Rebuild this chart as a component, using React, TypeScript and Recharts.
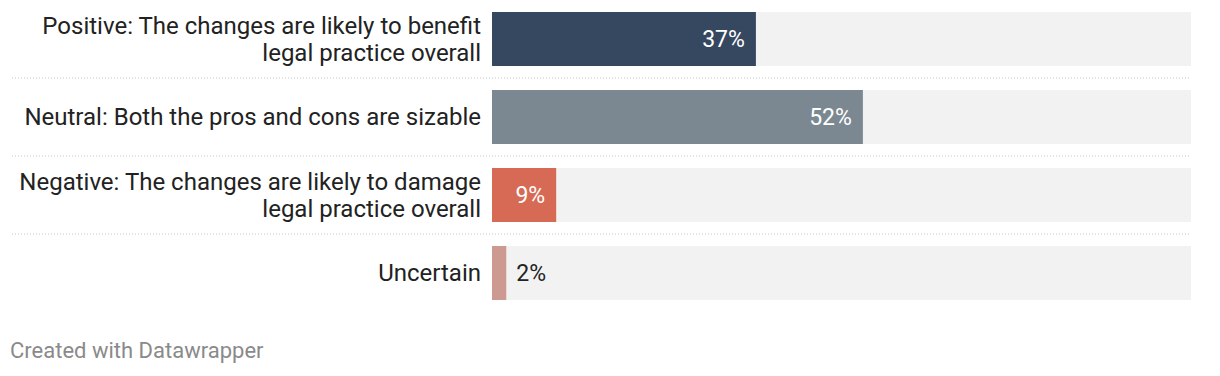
import { BarChart, Bar, XAxis, YAxis, Cell, LabelList } from "recharts";

const categories = [
  "Positive: The changes are likely to benefit\nlegal practice overall",
  "Neutral: Both the pros and cons are sizable",
  "Negative: The changes are likely to damage\nlegal practice overall",
  "Uncertain",
];
const shares = [37, 52, 9, 2];
const barColors = ["#364760", "#7b8891", "#d76a55", "#cc9a90"];

const data = categories.map((name, i) => ({ name, value: shares[i] }));

const FONT = "Roboto, 'Noto Sans', sans-serif";
const ROW = 78; // height of one category band

const LabelTick = (props: any) => {
  const { x, y, payload, index } = props;
  const lines = String(payload.value).split("\n");
  const lh = 27;
  return (
    <g>
      {index > 0 && (
        <line
          x1={12}
          x2={1191}
          y1={y - ROW / 2}
          y2={y - ROW / 2}
          stroke="#c4c4c4"
          strokeWidth={1}
          strokeDasharray="1 2"
        />
      )}
      <text x={x} y={y} textAnchor="end" fill="#222" fontSize={24} fontFamily={FONT}>
        {lines.map((l, i) => (
          <tspan key={i} x={x} y={y + (i - (lines.length - 1) / 2) * lh} dy="0.35em">
            {l}
          </tspan>
        ))}
      </text>
    </g>
  );
};

const ValueLabel = (props: any) => {
  const { x, y, width, height, value } = props;
  const inside = width > 40;
  return (
    <text
      x={inside ? x + width - 11 : x + width + 10}
      y={y + height / 2}
      dy="0.35em"
      textAnchor={inside ? "end" : "start"}
      fill={inside ? "#ffffff" : "#222"}
      fontSize={23}
      fontFamily={FONT}
    >
      {value}%
    </text>
  );
};

export default function App() {
  return (
    <div
      style={{
        position: "absolute",
        left: 0,
        top: 0,
        width: 1220,
        height: 376,
        background: "#fff",
        fontFamily: FONT,
      }}
    >
      <BarChart
        width={1220}
        height={312}
        data={data}
        layout="vertical"
        margin={{ top: 0, right: 29, bottom: 0, left: 0 }}
        barSize={54}
      >
        <XAxis type="number" domain={[0, 98]} hide />
        <YAxis
          type="category"
          dataKey="name"
          width={492}
          axisLine={false}
          tickLine={false}
          tickSize={0}
          tickMargin={11}
          tick={<LabelTick />}
          interval={0}
        />
        <Bar dataKey="value" background={{ fill: "#f2f2f2" }} isAnimationActive={false}>
          {data.map((d, i) => (
            <Cell key={d.name} fill={barColors[i]} />
          ))}
          <LabelList dataKey="value" content={<ValueLabel />} />
        </Bar>
      </BarChart>
      <div
        style={{
          position: "absolute",
          left: 10,
          top: 338,
          fontSize: 22,
          color: "#8a8a8a",
          fontFamily: FONT,
          lineHeight: "26px",
        }}
      >
        Created with Datawrapper
      </div>
    </div>
  );
}
